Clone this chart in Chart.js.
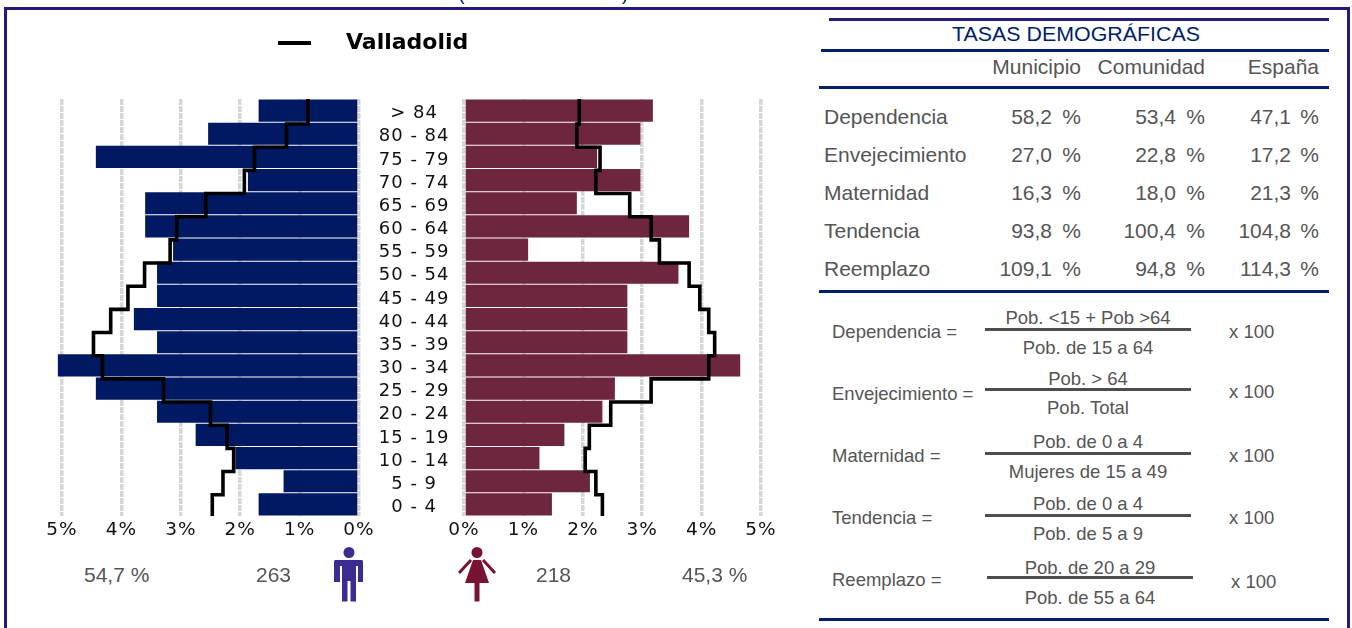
<!DOCTYPE html>
<html>
<head>
<meta charset="utf-8">
<script src="https://cdn.jsdelivr.net/npm/chart.js@4"></script>
<style>
  html, body { margin: 0; padding: 0; background: #fff; overflow: hidden; }
  #page { position: relative; width: 1352px; height: 628px; overflow: hidden; font-family: "Liberation Sans", Arial, sans-serif; }
  canvas { position: absolute; top: 0; }
  .t { position: absolute; white-space: pre; line-height: 1; }
  .r { position: absolute; }
</style>
</head>
<body>
<div id="page">
  <canvas id="maleChart" width="400" height="560" style="left:0"></canvas>
  <canvas id="femaleChart" width="442" height="560" style="left:358px"></canvas>
  <svg class="r" style="left:330px;top:544px;filter:blur(.6px)" width="38" height="62" viewBox="0 0 38 62">
    <circle cx="19" cy="8.500" r="5.500" fill="#3b2b92"/>
    <path d="M5 16H32Q33 16 33 18V38H28V22H26V57.500H20.500V37H17.500V57.500H12V22H10V38H4V18Q4 16 5 16Z" fill="#3b2b92"/>
  </svg>
  <svg class="r" style="left:456px;top:544px;filter:blur(.6px)" width="42" height="62" viewBox="0 0 42 62">
    <circle cx="21" cy="8.500" r="5.500" fill="#771333"/>
    <path d="M17 16H25L33 39H23.500V57.500H18.500V39H9Z" fill="#771333"/>
    <path d="M15 16L3 29M27 16L39 29" stroke="#771333" stroke-width="3" fill="none"/>
  </svg>
</div>
<script>
const categories = ['> 84', '80 - 84', '75 - 79', '70 - 74', '65 - 69', '60 - 64', '55 - 59', '50 - 54', '45 - 49',
  '40 - 44', '35 - 39', '30 - 34', '25 - 29', '20 - 24', '15 - 19', '10 - 14', '5 - 9', '0 - 4'];
const maleValues = [1.69, 2.54, 4.43, 1.87, 3.6, 3.6, 3.13, 3.4, 3.4, 3.79, 3.4, 5.07, 4.43, 3.4, 2.75, 2.08, 1.27, 1.69];
const femaleValues = [3.18, 2.97, 2.24, 2.97, 1.9, 3.79, 1.08, 3.61, 2.75, 2.75, 2.75, 4.65, 2.54, 2.33, 1.69, 1.27, 2.12, 1.48];
const maleRegion = [0.86, 1.22, 1.76, 1.93, 2.58, 3.07, 3.18, 3.61, 3.89, 4.18, 4.47, 4.32, 3.29, 2.5, 2.22, 2.11, 2.29, 2.47];
const femaleRegion = [1.94, 1.9, 2.29, 2.22, 2.79, 3.15, 3.29, 3.79, 3.97, 4.12, 4.22, 4.12, 3.15, 2.47, 2.11, 2.04, 2.22, 2.33];

const rateNames = ['Dependencia', 'Envejecimiento', 'Maternidad', 'Tendencia', 'Reemplazo'];
const municipio = ['58,2', '27,0', '16,3', '93,8', '109,1'];
const comunidad = ['53,4', '22,8', '18,0', '100,4', '94,8'];
const espana = ['47,1', '17,2', '21,3', '104,8', '114,3'];
const numerators = ['Pob. <15 + Pob >64', 'Pob. > 64', 'Pob. de 0 a 4', 'Pob. de 0 a 4', 'Pob. de 20 a 29'];
const denominators = ['Pob. de 15 a 64', 'Pob. Total', 'Mujeres de 15 a 49', 'Pob. de 5 a 9', 'Pob. de 55 a 64'];

const maleColor = '#011862';
const femaleColor = '#6d263e';
const gridColor = '#d6d6d6';

// the profile line is offset a bit from the bars, so it has its own y axis
const stepMin = -0.08;
const stepMax = 17.92;
function stepPoints(values) {
  const pts = values.map((v, i) => ({ x: v, y: i === 0 ? stepMin : i }));
  pts.push({ x: values[values.length - 1], y: stepMax });
  return pts;
}

const spacing = {
  id: 'spacing',
  beforeDraw(chart) { chart.ctx.letterSpacing = '1px'; }
};

function pyramid(id, values, region, color, reverse, padding, showLabels) {
  return new Chart(document.getElementById(id), {
    type: 'bar',
    plugins: [spacing],
    data: {
      labels: categories,
      datasets: [{
        type: 'line',
        data: stepPoints(region),
        yAxisID: 'yStep',
        borderColor: '#000',
        borderWidth: 3.6,
        stepped: 'after',
        pointRadius: 0,
        borderJoinStyle: 'miter',
        order: 0
      }, {
        data: values,
        yAxisID: 'y',
        backgroundColor: color,
        grouped: false,
        clip: false,
        barPercentage: 1,
        categoryPercentage: 0.955,
        order: 1
      }]
    },
    options: {
      indexAxis: 'y',
      responsive: false,
      animation: false,
      layout: { padding: padding },
      plugins: { legend: { display: false }, tooltip: { enabled: false } },
      scales: {
        x: {
          type: 'linear',
          reverse: reverse,
          min: 0,
          max: 5,
          afterFit(scale) { scale.height = 44; },
          grid: { color: gridColor, lineWidth: 3.5, drawTicks: false },
          border: { display: false, dash: [6, 1] },
          ticks: {
            stepSize: 1,
            padding: 3,
            maxRotation: 0,
            color: '#111',
            font: { family: 'DejaVu Sans', size: 18.5 },
            callback: v => v + '%'
          }
        },
        y: {
          type: 'category',
          display: showLabels,
          afterFit(scale) { scale.width = showLabels ? 106 : 0; },
          grid: { display: false },
          border: { display: false },
          ticks: {
            crossAlign: 'center',
            padding: 10,
            labelOffset: 3,
            autoSkip: false,
            color: '#111',
            font: { family: 'DejaVu Sans', size: 18 }
          }
        },
        yStep: { type: 'linear', display: false, reverse: true, offset: false, min: stepMin, max: stepMax }
      }
    }
  });
}

pyramid('maleChart', maleValues, maleRegion, maleColor, true, { left: 62, right: 41, top: 99, bottom: 0 }, false);
pyramid('femaleChart', femaleValues, femaleRegion, femaleColor, false, { left: 0, right: 39, top: 99, bottom: 0 }, true);

// everything around the charts
const page = document.getElementById('page');
function text(x, y, str, size, color, align, extra) {
  const d = document.createElement('div');
  d.className = 't';
  d.textContent = str;
  const tx = align === 'right' ? '-100%' : align === 'center' ? '-50%' : '0';
  d.style.cssText = `left:${x}px;top:${y}px;font-size:${size}px;color:${color};transform:translate(${tx},-50%);` + (extra || '');
  page.appendChild(d);
}
function rule(x, y, w, h, color) {
  const d = document.createElement('div');
  d.className = 'r';
  d.style.cssText = `left:${x}px;top:${y}px;width:${w}px;height:${h}px;background:${color}`;
  page.appendChild(d);
}

const frame = '#261a78';
const navy = '#001f6b';
const grey = '#555';
rule(4, 7, 1346, 3, frame);
rule(4, 7, 3, 621, frame);
rule(1347, 7, 3, 621, frame);
text(458, -7, '(', 20, navy, 'left');
text(622, -7, ')', 20, navy, 'left');

// legend
rule(278, 41, 33, 4, '#000');
text(346, 42, 'Valladolid', 22, '#000', 'left', 'font-family:"DejaVu Sans";font-weight:bold;');

// totals under the pyramid
text(84, 574, '54,7 %', 21, grey, 'left');
text(256, 574, '263', 21, grey, 'left');
text(536, 574, '218', 21, grey, 'left');
text(682, 574, '45,3 %', 21, grey, 'left');

// rates table
rule(829, 18, 500, 3, frame);
rule(821, 49, 508, 3, navy);
rule(819, 86, 510, 3, navy);
rule(819, 290, 510, 3, navy);
rule(819, 618, 510, 3, navy);
text(1075.500, 34, 'TASAS DEMOGRÁFICAS', 20.500, navy, 'center', 'transform:translate(-50%,-50%) scaleX(1.043);');
text(1081, 66, 'Municipio', 21, grey, 'right');
text(1205, 66, 'Comunidad', 21, grey, 'right');
text(1319, 66, 'España', 21, grey, 'right');
rateNames.forEach((name, i) => {
  const y = 116 + i * 38;
  text(824, y, name, 21, grey, 'left');
  text(1052, y, municipio[i], 21, grey, 'right');
  text(1081, y, '%', 21, grey, 'right');
  text(1176, y, comunidad[i], 21, grey, 'right');
  text(1205, y, '%', 21, grey, 'right');
  text(1291, y, espana[i], 21, grey, 'right');
  text(1319, y, '%', 21, grey, 'right');
});

// formulas
const barY = [329, 389, 453, 515, 577];
const labelY = [332, 394, 456, 518, 580];
const numY = [318, 379, 442, 504, 568];
const denY = [348, 408, 472, 534, 598];
const timesY = [332, 392, 456, 518, 582];
rateNames.forEach((name, i) => {
  const shift = i === 4 ? 2 : 0;
  text(832, labelY[i], name + ' =', 18.500, grey, 'left');
  rule(985 + shift, barY[i] - 1, 206, 3, '#4d4d4d');
  text(1088 + shift, numY[i], numerators[i], 18.500, grey, 'center');
  text(1088 + shift, denY[i], denominators[i], 18.500, grey, 'center');
  text(1229 + shift, timesY[i], 'x 100', 18.500, grey, 'left');
});
</script>
</body>
</html>
